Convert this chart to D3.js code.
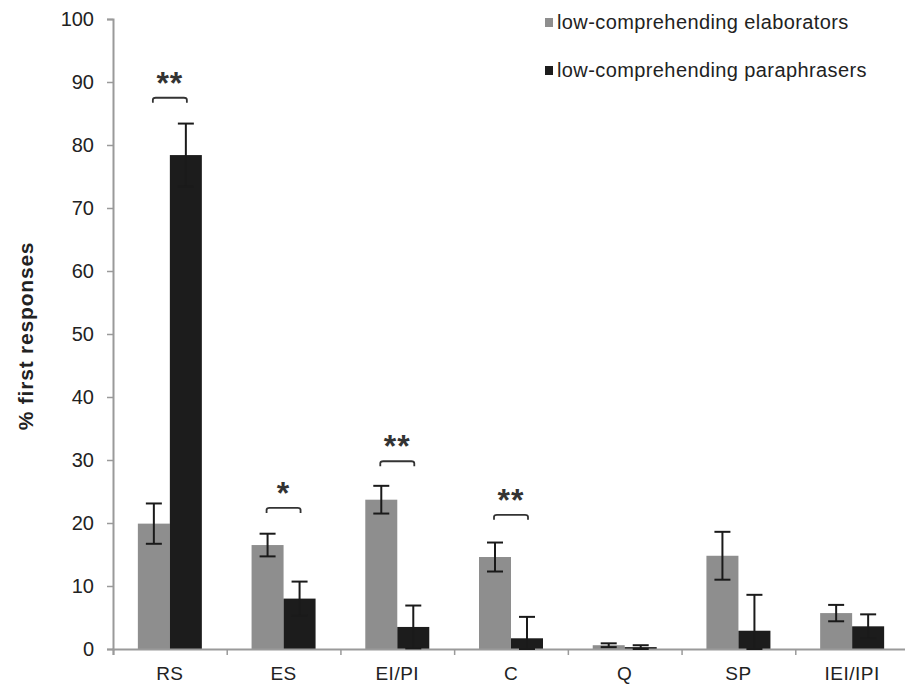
<!DOCTYPE html>
<html>
<head>
<meta charset="utf-8">
<script src="https://cdn.jsdelivr.net/npm/d3@7"></script>
<style>
  html, body { margin: 0; padding: 0; background: #fff; }
  svg { display: block; font-family: "Liberation Sans", Arial, sans-serif; }
</style>
</head>
<body>
<svg id="chart" width="905" height="685"></svg>
<script>
const categories = ["RS", "ES", "EI/PI", "C", "Q", "SP", "IEI/IPI"];
const seriesNames = ["low-comprehending elaborators", "low-comprehending paraphrasers"];
const elaborators = [19.9, 16.5, 23.7, 14.6, 0.6, 14.8, 5.7];
const elaboratorsErr = [3.2, 1.8, 2.2, 2.3, 0.3, 3.8, 1.3];
const paraphrasers = [78.4, 8.0, 3.5, 1.7, 0.3, 2.9, 3.6];
const paraphrasersErr = [5.0, 2.7, 3.4, 3.4, 0.3, 5.7, 1.9];
const yTicks = [0, 10, 20, 30, 40, 50, 60, 70, 80, 90, 100];
const sigCategories = ["RS", "ES", "EI/PI", "C"];
const sigLabels = ["**", "*", "**", "**"];
const sigLevels = [87.5, 22.4, 29.8, 21.3];

const colors = ["#8e8e8e", "#1c1c1c"];
const svg = d3.select("#chart");

const x = d3.scaleBand().domain(categories).range([113, 909]).paddingInner(0).paddingOuter(0);
const y = d3.scaleLinear().domain([0, 100]).range([649, 19]);
const barW = 32;
const xs = d3.scaleBand().domain([0, 1]).range([0, barW * 2]);

const series = [
  { vals: elaborators, errs: elaboratorsErr },
  { vals: paraphrasers, errs: paraphrasersErr }
];

// bars
series.forEach((s, si) => {
  const g = svg.append("g");
  g.selectAll("rect").data(categories).join("rect")
    .attr("x", d => x(d) + x.bandwidth() / 2 - barW + xs(si))
    .attr("y", (d, i) => y(s.vals[i]))
    .attr("width", xs.bandwidth())
    .attr("height", (d, i) => y(0) - y(s.vals[i]))
    .attr("fill", colors[si]);
});

// axes
const yAxis = svg.append("g").attr("transform", "translate(113,0)")
  .call(d3.axisLeft(y).tickValues(yTicks).tickSize(6).tickPadding(13));
yAxis.select(".domain").attr("stroke", "#9a9a9a").attr("stroke-width", 2);
yAxis.selectAll(".tick line").attr("stroke", "#9a9a9a").attr("stroke-width", 1.5);
yAxis.selectAll(".tick text").attr("font-size", 20).attr("fill", "#222")
  .attr("font-family", "'Liberation Sans', Arial, sans-serif");

const xAxisScale = d3.scaleLinear().domain([0, categories.length]).range([113, 909]);
const xAxis = svg.append("g").attr("transform", "translate(0,649)")
  .call(d3.axisBottom(xAxisScale).tickValues(d3.range(0, categories.length + 1)).tickSize(6).tickFormat(""));
xAxis.select(".domain").attr("stroke", "#9a9a9a").attr("stroke-width", 2);
xAxis.selectAll(".tick line").attr("stroke", "#9a9a9a").attr("stroke-width", 1.5);

svg.append("g").selectAll("text").data(categories).join("text")
  .attr("x", d => x(d) + x.bandwidth() / 2)
  .attr("y", 680)
  .attr("text-anchor", "middle")
  .attr("font-size", 19)
  .attr("letter-spacing", 0.5)
  .attr("fill", "#222")
  .text(d => d);

// error bars
series.forEach((s, si) => {
  const g = svg.append("g").attr("stroke", "#1a1a1a").attr("stroke-width", 2);
  categories.forEach((c, i) => {
    const cx = x(c) + x.bandwidth() / 2 - barW + xs(si) + xs.bandwidth() / 2;
    const top = y(s.vals[i] + s.errs[i]);
    const bot = y(Math.max(0, s.vals[i] - s.errs[i]));
    g.append("line").attr("x1", cx).attr("x2", cx).attr("y1", top).attr("y2", bot);
    g.append("line").attr("x1", cx - 8).attr("x2", cx + 8).attr("y1", top).attr("y2", top);
    g.append("line").attr("x1", cx - 8).attr("x2", cx + 8).attr("y1", bot).attr("y2", bot);
  });
});

// significance brackets
const sg = svg.append("g");
sigCategories.forEach((c, i) => {
  const cx = x(c) + x.bandwidth() / 2;
  const yy = y(sigLevels[i]);
  const x0 = cx - 17, x1 = cx + 17;
  sg.append("path")
    .attr("d", `M${x0},${yy + 5} L${x0},${yy + 2} Q${x0},${yy} ${x0 + 3},${yy} L${x1 - 3},${yy} Q${x1},${yy} ${x1},${yy + 2} L${x1},${yy + 5}`)
    .attr("fill", "none").attr("stroke", "#333").attr("stroke-width", 1.8);
  sg.append("text")
    .attr("x", cx).attr("y", yy - 4)
    .attr("text-anchor", "middle")
    .attr("font-size", 32).attr("font-weight", "bold").attr("fill", "#333")
    .attr("letter-spacing", 1)
    .text(sigLabels[i]);
});

// y title
svg.append("text")
  .attr("transform", "translate(33,336) rotate(-90)")
  .attr("text-anchor", "middle")
  .attr("font-size", 21).attr("font-weight", "bold").attr("fill", "#222")
  .attr("letter-spacing", 0.8)
  .text("% first responses");

// legend
const lg = svg.append("g");
seriesNames.forEach((n, i) => {
  const ly = 22 + i * 48;
  lg.append("rect").attr("x", 545).attr("y", ly - 4).attr("width", 8).attr("height", 9).attr("fill", colors[i]);
  lg.append("text").attr("x", 557).attr("y", ly + 7)
    .attr("font-size", 20).attr("letter-spacing", 0.4).attr("fill", "#222").text(n);
});
</script>
</body>
</html>
